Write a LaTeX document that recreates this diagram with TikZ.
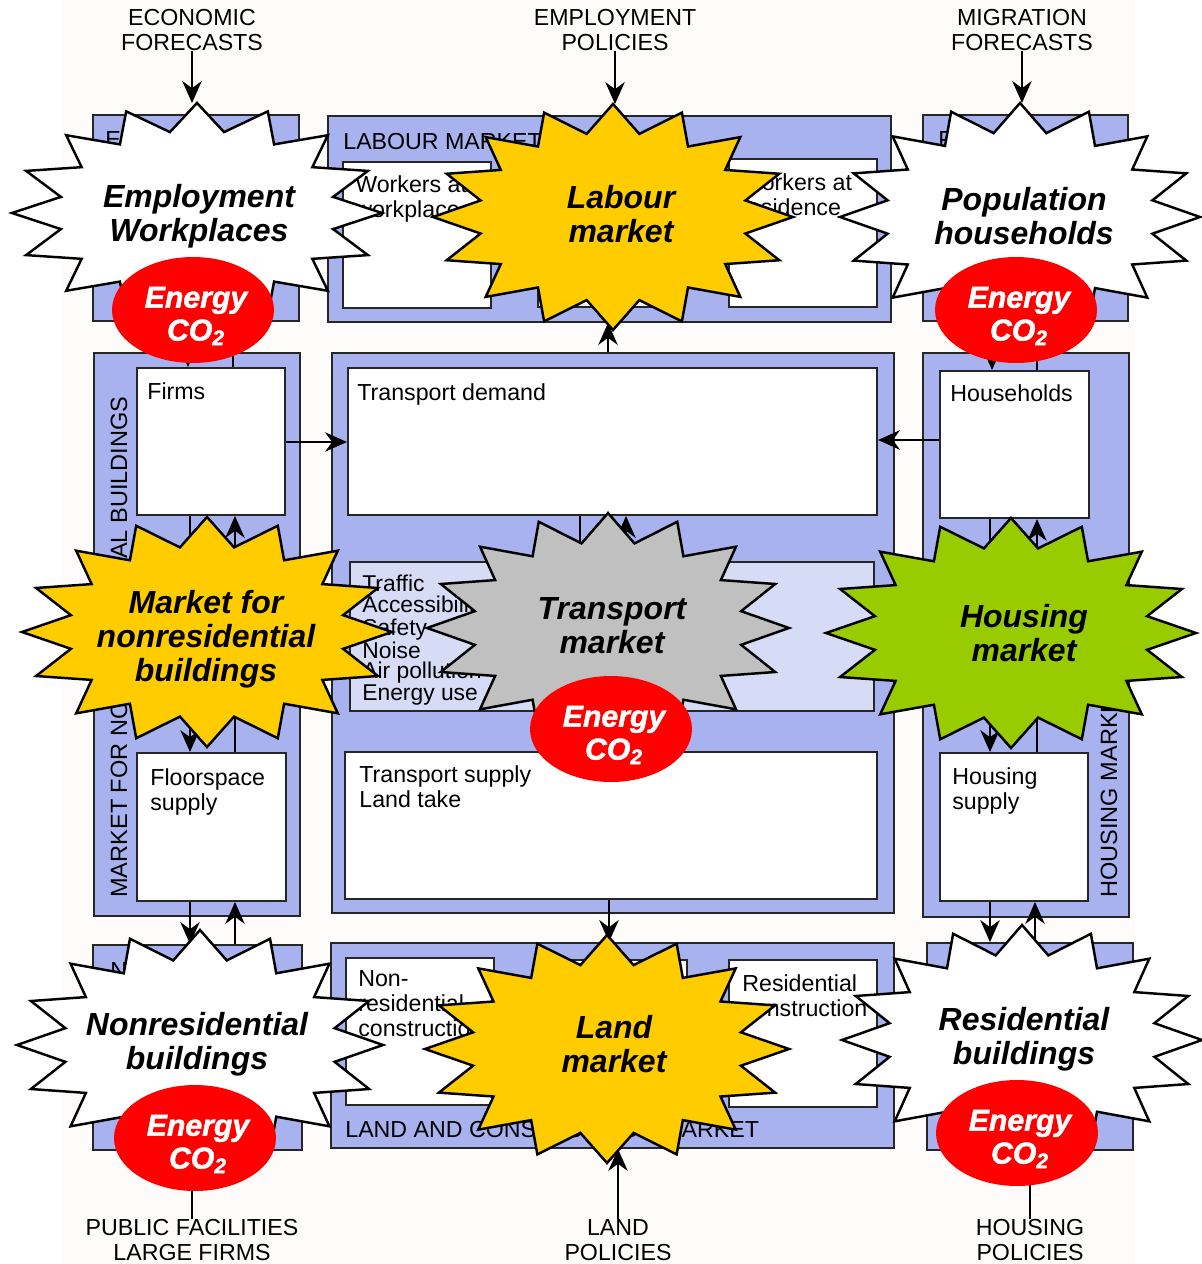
\documentclass[tikz,border=0pt]{standalone}
\usepackage{fontspec}
\setmainfont{Liberation Sans}
\usetikzlibrary{arrows.meta,shapes.geometric,fit}

\definecolor{boxblue}{RGB}{168,178,238}
\definecolor{paleblue}{RGB}{214,219,246}
\definecolor{mktyellow}{RGB}{255,204,0}
\definecolor{mktgreen}{RGB}{153,204,0}
\definecolor{mktgray}{RGB}{192,192,192}
\definecolor{sheet}{RGB}{253,252,250}

% 16-point burst: name, centre x, centre y, radius x, radius y, fill
\newcommand{\burst}[6]{%
  \filldraw[burstline, fill=#6] plot[samples at={0,...,31}, variable=\pk]
    ({#2+#4*(1-0.25*mod(\pk,2))*cos(90+\pk*11.25)}, {#3+#5*(1-0.25*mod(\pk,2))*sin(90+\pk*11.25)}) -- cycle;
  \coordinate (#1-n) at (#2,#3-#5);
  \coordinate (#1-s) at (#2,#3+#5);
}

\begin{document}
\begin{tikzpicture}[
  x=0.02cm, y=-0.02cm,
  font=\fontsize{13.2}{14.2}\selectfont,
  blk/.style={draw=black!85, line width=1.1pt, fill=boxblue, inner sep=0pt},
  cell/.style={draw=black!85, line width=1.1pt, fill=white, inner sep=0pt},
  pale/.style={draw=black!85, line width=1.1pt, fill=paleblue, inner sep=0pt},
  txt/.style={anchor=north west, align=left, inner sep=0pt},
  vtxt/.style={rotate=90, anchor=base west, inner sep=0pt, font=\fontsize{13.4}{14.2}\selectfont},
  ext/.style={align=center, inner sep=0pt, anchor=north},
  mkt/.style={align=center, inner sep=0pt, font=\fontsize{18.2}{19.3}\selectfont\bfseries\itshape},
  co2/.style={ellipse, fill=red, minimum width=3.24cm, minimum height=2.12cm, inner sep=0pt},
  eco/.style={align=center, inner sep=0pt, text=white, font=\fontsize{17.2}{18.7}\selectfont\bfseries\itshape\addfontfeature{FakeBold=1.5}},
  burstline/.style={draw=black, line width=1.4pt},
  arr/.style={-{Stealth[length=4.4mm, width=3.9mm]}, line width=0.9pt},
]
\useasboundingbox (0,0) rectangle (1202,1264);
\fill[white] (0,0) rectangle (1202,1264);
\fill[sheet] (62,0) rectangle (1135,1264);
% ================= top row =================
\node[blk, fit={(93,115) (299,321)}] (emp) {};
\node[txt] (empt) at (105,131) {E};
\node[blk, fit={(328,116) (891,322)}] (labour) {};
\node[txt] (labourt) at (343,133) {LABOUR MARKET};
\node[cell, fit={(343,162) (491,308)}] (wwp) {};
\node[cell, fit={(538,160) (683,307)}] (wmid) {};
\node[cell, fit={(729,159) (877,307)}] (wres) {};
\node[txt] (wwpt) at (355,175) {Workers at\\workplace};
\node[txt] (wrest) at (740,173) {Workers at\\residence};
\node[blk, fit={(923,115) (1128,321)}] (pop) {};
\node[txt] (popt) at (938,131) {P};
% ================= middle row =================
\node[blk, fit={(94,353) (300,916)}] (nrm) {};
\node[cell, fit={(137,368) (285,515)}] (firms) {};
\node[cell, fit={(137,753) (286,901)}] (floor) {};
\node[txt] (firmst) at (147,382) {Firms};
\node[txt] (floort) at (150,768) {Floorspace\\supply};
\node[vtxt] (nrmt) at (127,898) {MARKET FOR NONRESIDENTIAL BUILDINGS};
\node[blk, fit={(332,353) (894,913)}] (tbox) {};
\node[cell, fit={(348,368) (877,515)}] (tdem) {};
\node[pale, fit={(350,562) (874,711)}] (traf) {};
\node[cell, fit={(345,752) (877,899)}] (tsup) {};
\node[txt] (tdemt) at (357,383) {Transport demand};
\node[txt, font=\fontsize{13}{11.6}\selectfont] (traft) at (362,575) {Traffic\\Accessibility\\Safety\\Noise\\Air pollution\\Energy use};
\node[txt] (tsupt) at (359,765) {Transport supply\\Land take};
\node[blk, fit={(923,353) (1129,917)}] (hm) {};
\node[cell, fit={(940,371) (1089,518)}] (hh) {};
\node[cell, fit={(940,753) (1088,901)}] (hsup) {};
\node[txt] (hht) at (950,384) {Households};
\node[txt] (hsupt) at (952,767) {Housing\\supply};
\node[vtxt] (hmt) at (1117,898) {HOUSING MARKET};
% ================= bottom row =================
\node[blk, fit={(93,945) (302,1150)}] (nres) {};
\node[txt] (nrest) at (110,962) {N};
\node[blk, fit={(331,943) (894,1148)}] (land) {};
\node[cell, fit={(346,958) (494,1105)}] (nrc) {};
\node[cell, fit={(545,960) (687,1105)}] (lmid) {};
\node[cell, fit={(729,960) (877,1107)}] (rc) {};
\node[txt] (nrct) at (358,970) {Non-\\residential\\construction};
\node[txt] (rct) at (742,974) {Residential\\construction};
\node[txt] (landt) at (345,1121) {LAND AND CONSTRUCTION MARKET};
\node[blk, fit={(927,943) (1133,1150)}] (resb) {};
% ================= outside labels =================
\node[ext] (econ) at (192,9) {ECONOMIC\\FORECASTS};
\node[ext] (emppol) at (615,9) {EMPLOYMENT\\POLICIES};
\node[ext] (migr) at (1022,9) {MIGRATION\\FORECASTS};
\node[ext] (pubf) at (192,1219) {PUBLIC FACILITIES\\LARGE FIRMS};
\node[ext] (landpol) at (618,1219) {LAND\\POLICIES};
\node[ext] (hpol) at (1030,1219) {HOUSING\\POLICIES};
% ================= links under the markets =================
\draw[arr] (188,0 |- emp.south) -- (188,0 |- firms.north);
\draw[arr] (233,0 |- firms.north) -- (233,0 |- emp.south);
\draw[arr] (992,0 |- pop.south) -- (992,0 |- hh.north);
\draw[arr] (1037,0 |- hh.north) -- (1037,0 |- pop.south);
\draw[arr] (firms.east |- 0,442) -- (tdem.west |- 0,442);
\draw[arr] (hh.west |- 0,440) -- (tdem.east |- 0,440);
\draw[arr] (190,0 |- firms.south) -- (190,0 |- floor.north);
\draw[arr] (235,0 |- floor.north) -- (235,0 |- firms.south);
\draw[arr] (990,0 |- hh.south) -- (990,0 |- hsup.north);
\draw[arr] (1037,0 |- hsup.north) -- (1037,0 |- hh.south);
\draw[arr] (580,0 |- tdem.south) -- (580,0 |- traf.north);
\draw[arr] (626,0 |- traf.north) -- (626,0 |- tdem.south);
\draw[arr] (190,0 |- floor.south) -- (190,0 |- nres.north);
\draw[arr] (235,0 |- nres.north) -- (235,0 |- floor.south);
\draw[arr] (990,0 |- hsup.south) -- (990,0 |- resb.north);
\draw[arr] (1035,0 |- resb.north) -- (1035,0 |- hsup.south);
\draw[arr] (609,0 |- tsup.south) -- (609,0 |- land.north);
\draw[arr] (pubf.north) -- (pubf.north |- nres.south);
\draw[arr] (hpol.north) -- (hpol.north |- resb.south);
% ================= markets =================
\burst{sEmp}{197}{213}{185}{110}{white}
\burst{sLab}{613}{217}{180}{113}{mktyellow}
\burst{sPop}{1020}{217}{180}{114}{white}
\burst{sNrm}{207}{632}{185}{115}{mktyellow}
\burst{sTra}{608}{628}{181}{115}{mktgray}
\burst{sHou}{1011}{633}{185}{115}{mktgreen}
\burst{sNrb}{200}{1045}{183}{115}{white}
\burst{sLan}{607}{1049}{182}{114}{mktyellow}
\burst{sRes}{1022}{1040}{180}{115}{white}
\node[mkt] (mEmp) at (199,216) {Employment\\Workplaces};
\node[mkt] (mLab) at (621,214) {Labour\\market};
\node[mkt] (mPop) at (1024,216) {Population\\households};
\node[mkt] (mNrm) at (206,639) {Market for\\nonresidential\\buildings};
\node[mkt] (mTra) at (612,626) {Transport\\market};
\node[mkt] (mHou) at (1024,633) {Housing\\market};
\node[mkt] (mNrb) at (197,1044) {Nonresidential\\buildings};
\node[mkt] (mLan) at (614,1044) {Land\\market};
\node[mkt] (mRes) at (1024,1039) {Residential\\buildings};
% ================= energy and CO2 =================
\node[co2] (eEmp) at (193,310) {};
\node[co2] (ePop) at (1016,310) {};
\node[co2] (eTra) at (611,729) {};
\node[co2] (eNrb) at (195,1138) {};
\node[co2] (eRes) at (1017,1133) {};
\node[eco] (eEmpt) at (196,316) {Energy\\CO\textsubscript{2}};
\node[eco] (ePopt) at (1019,316) {Energy\\CO\textsubscript{2}};
\node[eco] (eTrat) at (614,735) {Energy\\CO\textsubscript{2}};
\node[eco] (eNrbt) at (198,1144) {Energy\\CO\textsubscript{2}};
\node[eco] (eRest) at (1020,1139) {Energy\\CO\textsubscript{2}};
% ================= links over the markets =================
\draw[arr] (econ.south) -- (econ.south |- sEmp-n);
\draw[arr] (emppol.south) -- (emppol.south |- sLab-n);
\draw[arr] (migr.south) -- (migr.south |- sPop-n);
\draw[arr] (608,0 |- tbox.north) -- (608,0 |- labour.south);
\draw[arr] (landpol.north) -- (landpol.north |- land.south);
\end{tikzpicture}
\end{document}
